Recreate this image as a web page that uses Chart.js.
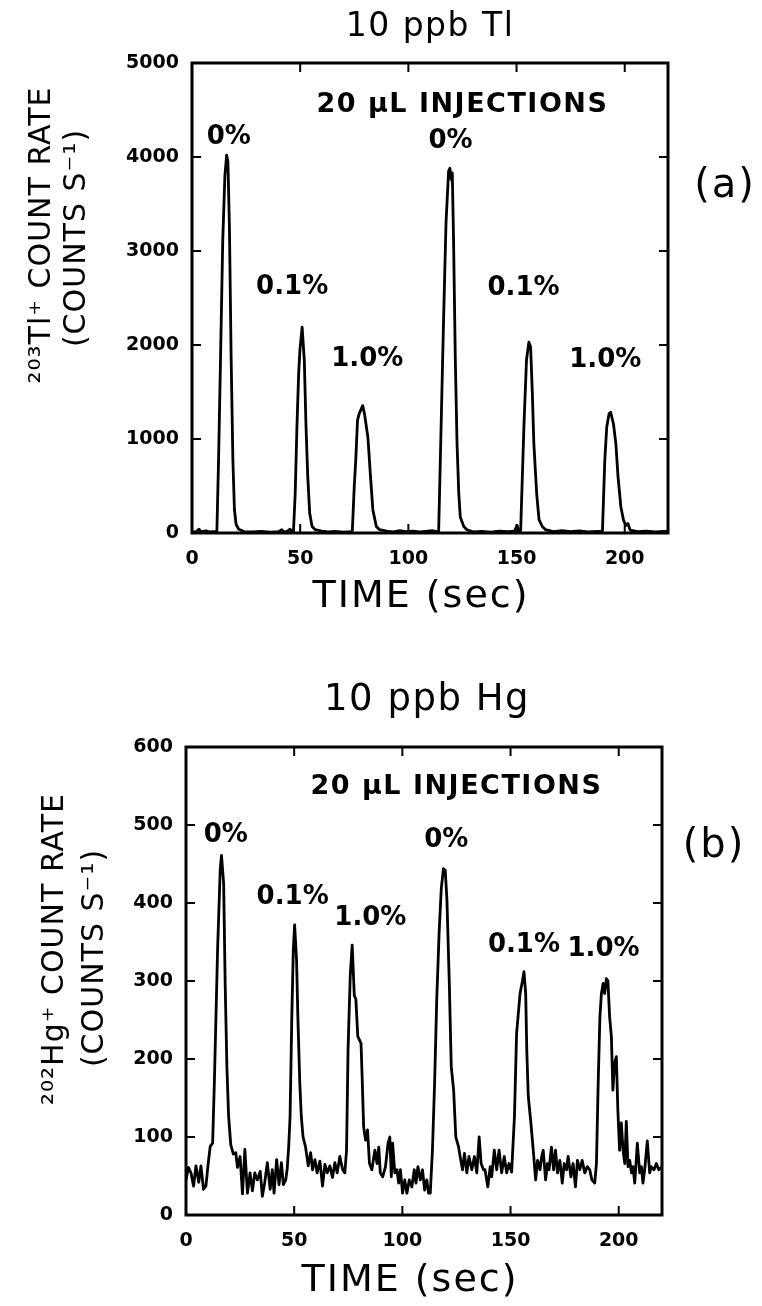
<!DOCTYPE html>
<html>
<head>
<meta charset="utf-8">
<script src="https://cdn.jsdelivr.net/npm/chart.js@4.4.1/dist/chart.umd.min.js"></script>
<style>
  html, body { margin: 0; padding: 0; background: #fff; }
  #wrap { position: relative; width: 762px; height: 1306px; }
  canvas { position: absolute; left: 0; }
</style>
</head>
<body>
<div id="wrap">
  <canvas id="tlChart" width="762" height="653" style="top:0"></canvas>
  <canvas id="hgChart" width="762" height="653" style="top:653px"></canvas>
</div>
<script>
// axis ticks
const xTicks = [0, 50, 100, 150, 200];
const tlTicks = [0, 1000, 2000, 3000, 4000, 5000];
const hgTicks = [0, 100, 200, 300, 400, 500, 600];

// (a) 10 ppb Tl
const tlTime = [
  0, 2, 3.2, 4.2, 6.5, 8, 10, 11.5,
  12.3, 13.3, 14.2, 15.2, 16.0, 16.6, 17.3, 18.1, 18.9, 19.6, 20.4, 21.6,
  24, 28, 32, 36, 40, 41.5, 42.5, 44, 45.3, 46.2, 46.9,
  47.7, 48.5, 49.3, 49.9, 50.9, 51.9, 52.7, 53.5, 54.4, 55.5, 57.0,
  60, 63, 66, 70, 73.5, 74.1,
  75.0, 75.7, 76.5, 77.3, 78.9, 79.7, 81.3, 82.5, 83.6, 85.2, 86.7,
  90, 93, 96, 99, 102, 105, 108, 111, 113, 114.0,
  115.0, 116.2, 117.4, 118.6, 119.2, 119.8, 120.3, 120.9, 121.7, 122.5, 123.3, 124.0, 125.6, 127.1,
  130, 134, 138, 142, 146, 149, 150.3, 150.9, 151.9,
  153.4, 154.6, 155.7, 156.5, 157.3, 158.0, 159.3, 160.4, 161.9, 163.4,
  167, 171, 175, 179, 183, 187, 189.7,
  190.8, 191.7, 192.8, 193.5, 194.8, 195.9, 196.9, 198.2, 199.4, 200.5, 201.5, 202.5,
  206, 210, 214, 218, 220
];
const tlCounts = [
  12, 15, 40, 12, 22, 12, 15, 18,
  800, 2000, 3100, 3800, 4020, 3950, 3250, 1850, 780, 250, 90, 40,
  15, 12, 18, 10, 15, 35, 12, 18, 40, 15, 20,
  420, 1130, 1700, 1950, 2190, 1840, 1130, 600, 210, 70, 35,
  20, 12, 18, 10, 15, 25,
  500, 780, 1200, 1270, 1355, 1270, 1020, 600, 245, 70, 35,
  20, 12, 25, 15, 20, 12, 18, 25, 15, 20,
  1000, 2200, 3300, 3850, 3880, 3760, 3830, 3100, 1850, 950, 420, 170, 70, 35,
  12, 18, 10, 20, 15, 20, 80, 15, 25,
  1130, 1840, 2030, 1980, 1490, 950, 420, 140, 70, 35,
  15, 25, 15, 22, 12, 18, 20,
  780, 1130, 1270, 1285, 1160, 950, 600, 280, 140, 80, 100, 30,
  15, 20, 12, 18, 15
];

// (b) 10 ppb Hg
const hgTime = [
  0, 1.1, 2.3, 3.5, 4.6, 5.9, 6.9, 8.1, 9.2, 10.3, 11.2, 12.3,
  13.1, 14.6, 15.8, 16.4, 17.4, 18.1, 18.9, 19.7, 20.7, 21.9,
  23.0, 23.8, 25.0, 26.1, 27.2, 28.4, 29.6, 30.7, 31.8, 33.0, 34.3, 35.3, 36.4, 37.6, 38.9, 39.9, 40.7, 41.9, 43.0, 44.1, 45.0, 46.1, 46.8,
  47.5, 48.1, 48.9, 49.6, 50.2, 51.1, 51.7, 52.6, 53.3, 54.1, 55.2,
  56.5, 57.6, 58.5, 59.6, 60.6, 61.9, 63.1, 64.2, 65.3, 66.5, 67.7, 68.8, 69.9, 71.1, 72.4, 73.4,
  74.2, 74.9, 75.9, 76.8, 77.8, 78.5, 79.4, 80.9, 81.5, 82.1, 83.0, 83.9,
  84.8, 85.9, 87.3, 88.3, 89.1, 89.8, 90.9, 92.2, 93.4, 94.2, 94.9, 95.5, 96.5, 97.5, 98.3, 99.1, 100.1, 101.1, 102.1, 103.2, 104.4, 105.5, 106.3, 107.2, 108.3, 109.3, 110.3, 111.3, 112.1, 112.9,
  113.9, 114.9, 115.9, 117.0, 118.0, 119.0, 119.8, 120.6, 121.7, 122.6, 123.7, 124.7, 126.0,
  126.7, 127.8, 128.7, 129.8, 130.8, 132.1, 133.3, 134.4, 135.5, 136.4, 137.5, 138.2, 139.5, 140.6, 141.3, 142.5, 143.6, 144.7, 145.9, 147.1, 148.2, 149.3, 150.5,
  151.8, 152.8, 154.4, 155.5, 156.2, 157.0, 157.5, 158.2, 159.4, 160.5,
  161.6, 162.5, 163.6, 164.4, 165.1, 166.2, 167.1, 167.8, 168.9, 169.9, 170.8, 171.7, 172.8, 173.9, 174.8, 175.9, 176.6, 177.9, 178.9, 180.0, 180.9, 182.0, 183.1, 184.3, 185.5, 186.6, 187.6, 188.9, 189.7,
  190.5, 191.3, 192.0, 192.8, 193.5, 194.3, 195.0, 195.8, 196.6, 197.3, 198.1, 198.9, 199.6, 200.4, 201.2, 202.0,
  202.8, 203.5, 204.3, 205.1, 205.9, 206.6, 207.4, 208.6, 209.7, 210.5, 211.2, 212.0, 213.2, 214.3, 215.0, 216.3, 217.4, 218.5, 220
];
const hgCounts = [
  45, 61, 54, 37, 63, 42, 63, 33, 37, 67, 88, 92,
  169, 340, 442, 461, 425, 297, 190, 126, 90, 78,
  80, 61, 75, 27, 84, 28, 54, 31, 54, 45, 56, 24, 42, 67, 33, 58, 28, 71, 39, 67, 39, 45, 60,
  90, 126, 254, 340, 372, 327, 254, 169, 126, 100, 88,
  63, 80, 58, 71, 54, 69, 37, 65, 54, 63, 48, 67, 54, 75, 58, 54,
  83, 212, 306, 346, 281, 277, 229, 220, 169, 113, 96, 109,
  66, 58, 83, 66, 87, 54, 49, 62, 92, 100, 49, 92, 54, 58, 41, 58, 28, 45, 28, 45, 36, 58, 41, 62, 45, 58, 32, 45, 28, 28,
  83, 169, 277, 363, 419, 444, 442, 404, 297, 190, 160, 100, 87,
  75, 58, 79, 54, 75, 58, 75, 54, 100, 66, 58, 58, 36, 62, 49, 83, 58, 83, 54, 75, 54, 66, 55,
  126, 233, 284, 300, 312, 284, 212, 152, 118, 83,
  45, 70, 58, 75, 83, 45, 66, 58, 87, 58, 83, 54, 70, 41, 66, 58, 75, 49, 66, 36, 70, 58, 70, 54, 62, 58, 45, 41, 66,
  169, 254, 284, 297, 284, 303, 300, 254, 229, 160, 195, 203, 134, 83, 118, 83,
  66, 120, 62, 70, 54, 62, 41, 92, 54, 62, 41, 58, 95, 54, 62, 58, 66, 58, 62
];

// peak notes (text + data-space anchor)
const peakText = ['0%', '0.1%', '1.0%', '0%', '0.1%', '1.0%'];
const tlNoteTime = [17, 46.3, 81, 119.5, 153.2, 191];
const tlNoteCount = [4213, 2617, 1851, 4170, 2606, 1840];
const hgNoteTime = [18.4, 49.3, 85.2, 120.3, 156.2, 193];
const hgNoteCount = [487, 408, 381, 480, 346, 341];

const FONT = '"DejaVu Sans", sans-serif';

function put(ctx, text, px, py, font, spacing, rotate) {
  ctx.save();
  ctx.font = font;
  ctx.fillStyle = '#000';
  ctx.textAlign = 'center';
  ctx.textBaseline = 'middle';
  ctx.letterSpacing = (spacing || 0) + 'px';
  ctx.translate(px, py);
  if (rotate) ctx.rotate(rotate);
  ctx.fillText(text, 0, 0);
  ctx.restore();
}

const figText = {
  id: 'figText',
  afterDraw(chart, args, o) {
    const { ctx, chartArea: a } = chart;
    const x = chart.scales.x, y = chart.scales.y;
    ctx.save();
    // box
    ctx.strokeStyle = '#000';
    ctx.lineWidth = 3;
    ctx.strokeRect(a.left, a.top, a.right - a.left, a.bottom - a.top);
    // inward tick marks on all four sides
    ctx.lineWidth = 2;
    ctx.beginPath();
    x.ticks.forEach(t => {
      const px = x.getPixelForValue(t.value);
      ctx.moveTo(px, a.bottom); ctx.lineTo(px, a.bottom - 9);
      ctx.moveTo(px, a.top); ctx.lineTo(px, a.top + 9);
    });
    y.ticks.forEach(t => {
      const py = y.getPixelForValue(t.value);
      ctx.moveTo(a.left, py); ctx.lineTo(a.left + 9, py);
      ctx.moveTo(a.right, py); ctx.lineTo(a.right - 9, py);
    });
    ctx.stroke();
    ctx.restore();

    put(ctx, o.title, o.titlePos[0], o.titlePos[1], o.titleSize + 'px ' + FONT, 1.5);
    put(ctx, 'TIME (sec)', o.xTitlePos[0], o.xTitlePos[1], '38px ' + FONT, 2);
    o.yTitle.forEach((line, i) => {
      put(ctx, line, o.yTitleX[i], o.yTitleY[i], '30px ' + FONT, 1, -Math.PI / 2);
    });
    put(ctx, o.tag, o.tagPos[0], o.tagPos[1], '40px ' + FONT, 2);
    put(ctx, '20 \u03BCL INJECTIONS', x.getPixelForValue(125), y.getPixelForValue(o.noteCount),
        'bold 27px ' + FONT, 1.5);
    peakText.forEach((txt, i) => {
      put(ctx, txt, x.getPixelForValue(o.peakTime[i]), y.getPixelForValue(o.peakCount[i]),
          'bold 26px ' + FONT, 0);
    });
  }
};

const tickFont = { family: FONT, size: 19, weight: 'bold' };

function makeChart(id, time, counts, yTicks, area, lineWidth, text) {
  const points = time.map((t, i) => ({ x: t, y: counts[i] }));
  return new Chart(document.getElementById(id), {
    type: 'line',
    data: {
      datasets: [{
        data: points,
        borderColor: '#000',
        borderWidth: lineWidth,
        borderJoinStyle: 'round',
        pointRadius: 0,
        tension: 0,
        fill: false
      }]
    },
    options: {
      responsive: false,
      animation: false,
      devicePixelRatio: 1,
      layout: { padding: { left: 0, top: area.top, right: 762 - area.right, bottom: 0 } },
      plugins: {
        legend: { display: false },
        tooltip: { enabled: false },
        figText: text
      },
      scales: {
        x: {
          type: 'linear',
          min: 0,
          max: 220,
          afterBuildTicks: s => { s.ticks = xTicks.map(v => ({ value: v })); },
          afterFit: s => { s.height = 653 - area.bottom; },
          grid: { display: false, drawTicks: false },
          border: { display: false },
          ticks: { color: '#000', font: tickFont, padding: 15, maxRotation: 0, callback: v => String(v) }
        },
        y: {
          type: 'linear',
          min: 0,
          max: yTicks[yTicks.length - 1],
          afterBuildTicks: s => { s.ticks = yTicks.map(v => ({ value: v })); },
          afterFit: s => { s.width = area.left; },
          grid: { display: false, drawTicks: false },
          border: { display: false },
          ticks: { color: '#000', font: tickFont, padding: 13, callback: v => String(v) }
        }
      }
    },
    plugins: [figText]
  });
}

makeChart('tlChart', tlTime, tlCounts, tlTicks,
  { left: 192, right: 668, top: 63, bottom: 533 }, 2.8, {
    title: '10 ppb Tl', titleSize: 33, titlePos: [430, 27],
    xTitlePos: [421, 597],
    yTitle: ['\u00B2\u2070\u00B3Tl\u207A COUNT RATE', '(COUNTS S\u207B\u00B9)'],
    yTitleX: [42, 77], yTitleY: [235, 238],
    tag: '(a)', tagPos: [725, 187],
    noteCount: 4553,
    peakTime: tlNoteTime, peakCount: tlNoteCount
  });

makeChart('hgChart', hgTime, hgCounts, hgTicks,
  { left: 186, right: 662, top: 94, bottom: 562 }, 2.8, {
    title: '10 ppb Hg', titleSize: 37, titlePos: [427, 47],
    xTitlePos: [410, 628],
    yTitle: ['\u00B2\u2070\u00B2Hg\u207A COUNT RATE', '(COUNTS S\u207B\u00B9)'],
    yTitleX: [55, 95], yTitleY: [296, 305],
    tag: '(b)', tagPos: [714, 194],
    noteCount: 549,
    peakTime: hgNoteTime, peakCount: hgNoteCount
  });
</script>
</body>
</html>
